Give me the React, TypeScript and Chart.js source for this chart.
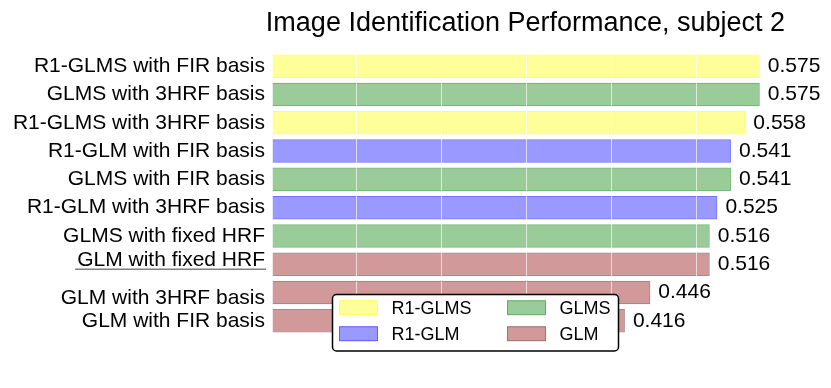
import React, { useEffect, useRef } from "react";
import { Chart, registerables } from "chart.js";

Chart.register(...registerables);

const categories = [
  "R1-GLMS with FIR basis",
  "GLMS with 3HRF basis",
  "R1-GLMS with 3HRF basis",
  "R1-GLM with FIR basis",
  "GLMS with FIR basis",
  "R1-GLM with 3HRF basis",
  "GLMS with fixed HRF",
  "GLM with fixed HRF",
  "GLM with 3HRF basis",
  "GLM with FIR basis",
];

const r1glmsValues = [0.575, null, 0.558, null, null, null, null, null, null, null];
const glmsValues = [null, 0.575, null, null, 0.541, null, 0.516, null, null, null];
const r1glmValues = [null, null, null, 0.541, null, 0.525, null, null, null, null];
const glmValues = [null, null, null, null, null, null, null, 0.516, 0.446, 0.416];

const seriesNames = ["R1-GLMS", "R1-GLM", "GLMS", "GLM"];
const legendOrder = ["R1-GLMS", "GLMS", "R1-GLM", "GLM"];
const underlinedCategory = "GLM with fixed HRF";
const titleText = "Image Identification Performance, subject 2";

const FONT = "'Liberation Sans', Arial, Helvetica, sans-serif";

const fills: Record<string, string> = {
  "R1-GLMS": "rgba(255,255,0,0.4)",
  "R1-GLM": "rgba(0,0,255,0.4)",
  GLMS: "rgba(0,128,0,0.4)",
  GLM: "rgba(139,0,0,0.4)",
};
const edges: Record<string, string> = {
  "R1-GLMS": "rgba(255,255,0,0.6)",
  "R1-GLM": "rgba(0,0,255,0.55)",
  GLMS: "rgba(0,128,0,0.55)",
  GLM: "rgba(90,40,40,0.55)",
};

// small vertical nudges of a few tick labels (px, negative = up), as in the reference
const labelNudge: Record<number, number> = { 7: -4, 8: 6 };

const valueLabelPlugin = {
  id: "valueLabels",
  afterDraw(chart: any) {
    const ctx = chart.ctx;
    ctx.save();
    ctx.font = `21px ${FONT}`;
    ctx.fillStyle = "#000";
    ctx.textAlign = "left";
    ctx.textBaseline = "middle";
    chart.data.datasets.forEach((ds: any, di: number) => {
      const meta = chart.getDatasetMeta(di);
      meta.data.forEach((el: any, i: number) => {
        const v = ds.data[i];
        if (v === null || v === undefined) return;
        ctx.fillText(v.toFixed(3), el.x + 8, el.y);
      });
    });
    ctx.restore();
  },
};

const decorPlugin = {
  id: "decor",
  afterDraw(chart: any) {
    const ctx = chart.ctx;
    const area = chart.chartArea;
    const yScale = chart.scales.y;
    ctx.save();
    // title
    ctx.font = `27px ${FONT}`;
    ctx.fillStyle = "#000";
    ctx.textAlign = "center";
    ctx.textBaseline = "alphabetic";
    ctx.fillText(titleText, 525.5, 31);

    // underline of the highlighted tick label
    const idx = categories.indexOf(underlinedCategory);
    if (idx >= 0) {
      ctx.font = `21px ${FONT}`;
      const w = ctx.measureText(underlinedCategory).width;
      const yPix = yScale.getPixelForTick(idx) + 5;
      const xRight = area.left - 7;
      ctx.strokeStyle = "#808080";
      ctx.lineWidth = 1.6;
      ctx.beginPath();
      ctx.moveTo(xRight - w - 2, yPix);
      ctx.lineTo(xRight + 1, yPix);
      ctx.stroke();
    }

    // legend
    const lx = 332.5, ly = 294.5, lw = 286, lh = 56.5, r = 4;
    ctx.fillStyle = "#fff";
    ctx.strokeStyle = "#000";
    ctx.lineWidth = 1.5;
    ctx.beginPath();
    ctx.moveTo(lx + r, ly);
    ctx.lineTo(lx + lw - r, ly);
    ctx.arcTo(lx + lw, ly, lx + lw, ly + r, r);
    ctx.lineTo(lx + lw, ly + lh - r);
    ctx.arcTo(lx + lw, ly + lh, lx + lw - r, ly + lh, r);
    ctx.lineTo(lx + r, ly + lh);
    ctx.arcTo(lx, ly + lh, lx, ly + lh - r, r);
    ctx.lineTo(lx, ly + r);
    ctx.arcTo(lx, ly, lx + r, ly, r);
    ctx.closePath();
    ctx.fill();
    ctx.stroke();

    ctx.font = `18px ${FONT}`;
    ctx.textAlign = "left";
    ctx.textBaseline = "middle";
    legendOrder.forEach((name, k) => {
      const ds = chart.data.datasets.find((d: any) => d.label === name);
      const col = k % 2;
      const row = Math.floor(k / 2);
      const sx = col === 0 ? 339.5 : 507.5;
      const tx = col === 0 ? 391.5 : 559.5;
      const cy = row === 0 ? 307.7 : 333.7;
      ctx.fillStyle = ds.backgroundColor;
      ctx.fillRect(sx, cy - 7, 38, 14);
      ctx.strokeStyle = ds.borderColor;
      ctx.lineWidth = 1;
      ctx.strokeRect(sx, cy - 7, 38, 14);
      ctx.fillStyle = "#000";
      ctx.fillText(name, tx, cy + 1);
    });
    ctx.restore();
  },
};

export default function App() {
  const ref = useRef<HTMLCanvasElement | null>(null);
  useEffect(() => {
    if (!ref.current) return;
    const dataMap: Record<string, (number | null)[]> = {
      "R1-GLMS": r1glmsValues,
      "R1-GLM": r1glmValues,
      GLMS: glmsValues,
      GLM: glmValues,
    };
    const chart = new Chart(ref.current, {
      type: "bar",
      data: {
        labels: categories,
        datasets: seriesNames.map((name) => ({
          label: name,
          data: dataMap[name],
          backgroundColor: fills[name],
          borderColor: edges[name],
          borderWidth: 1.2,
          grouped: false,
          barPercentage: 0.83,
          categoryPercentage: 1,
        })),
      },
      options: {
        indexAxis: "y",
        animation: false,
        responsive: false,
        maintainAspectRatio: false,
        layout: { padding: { left: 0, right: 50, top: 52, bottom: 53 } },
        plugins: {
          legend: { display: false },
          title: { display: false },
          tooltip: { enabled: false },
        },
        scales: {
          x: {
            min: 0,
            max: 0.6,
            ticks: { display: false, stepSize: 0.1 },
            border: { display: false },
            grid: {
              z: 1,
              drawTicks: false,
              lineWidth: 1,
              color: (c: any) =>
                c.tick && (c.tick.value <= 0.0001 || c.tick.value >= 0.5999)
                  ? "rgba(0,0,0,0)"
                  : "rgba(255,255,255,0.65)",
            },
            afterFit: (s: any) => {
              s.height = 0;
            },
          },
          y: {
            grid: { display: false, drawTicks: false },
            border: { display: false },
            ticks: {
              color: "#000",
              padding: 7,
              autoSkip: false,
              font: (c: any) => {
                const n = labelNudge[c.index];
                return n
                  ? { family: FONT, size: 21, lineHeight: (Math.abs(n) * 2) / 21 }
                  : { family: FONT, size: 21 };
              },
              callback: (_v: any, i: number) => {
                const n = labelNudge[i];
                if (!n) return categories[i];
                return n < 0 ? [categories[i], ""] : ["", categories[i]];
              },
            },
            afterFit: (s: any) => {
              s.width = 272;
            },
          },
        },
      },
      plugins: [valueLabelPlugin, decorPlugin],
    });
    return () => chart.destroy();
  }, []);
  return (
    <div style={{ position: "absolute", left: 0, top: 0, width: 831, height: 388, background: "#fff" }}>
      <canvas ref={ref} width={831} height={388} style={{ display: "block" }} />
    </div>
  );
}
